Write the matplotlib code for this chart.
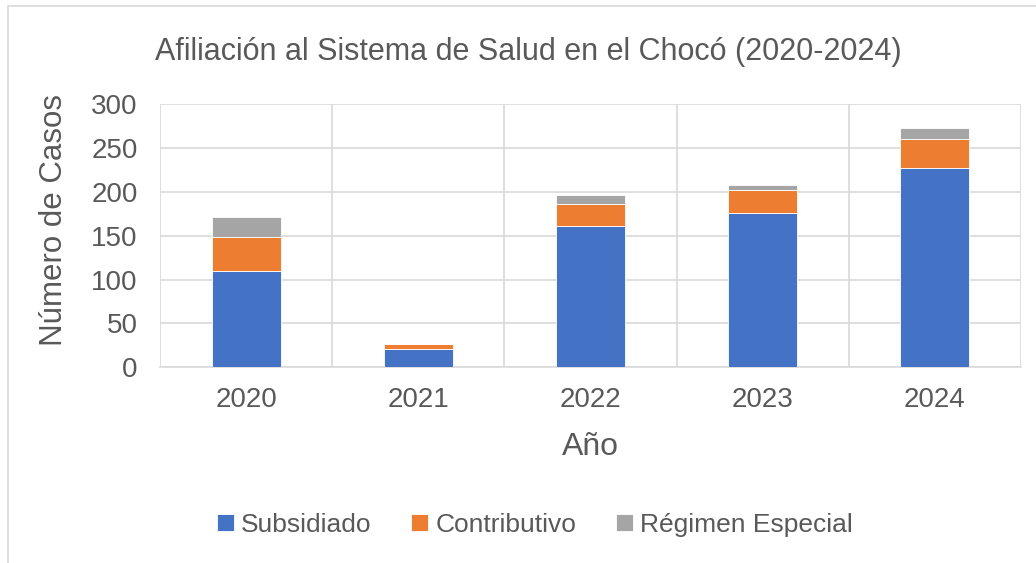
import matplotlib.pyplot as plt
from matplotlib.patches import Rectangle

# data
years = ["2020", "2021", "2022", "2023", "2024"]
subsidiado = [110, 21, 161, 176, 227]
contributivo = [38, 5, 25, 26, 33]
especial = [23, 1, 10, 6, 13]

plt.rcParams['font.family'] = ['Liberation Sans', 'DejaVu Sans']
TXT = '#595959'

fig = plt.figure(figsize=(10.36, 5.63), dpi=100)
ax = fig.add_axes([0.1544, 0.3476, 0.8311, 0.4677])

x = list(range(len(years)))
bottom2 = [a + b for a, b in zip(subsidiado, contributivo)]
ax.bar(x, subsidiado, width=0.4, color='#4472C4', edgecolor='white', linewidth=0.6, label='Subsidiado', zorder=3)
ax.bar(x, contributivo, width=0.4, bottom=subsidiado, color='#ED7D31', edgecolor='white', linewidth=0.6, label='Contributivo', zorder=3)
ax.bar(x, especial, width=0.4, bottom=bottom2, color='#A5A5A5', edgecolor='white', linewidth=0.6, label='Régimen Especial', zorder=3)

ax.set_xlim(-0.5, 4.5)
ax.set_ylim(0, 300)
ax.set_yticks(range(0, 301, 50))
ax.set_xticks(x)
ax.set_xticklabels(years)
# vertical gridlines at category boundaries
ax.set_xticks([i - 0.5 for i in range(len(years) + 1)], minor=True)
ax.grid(True, which='minor', axis='x', color='#D9D9D9', linewidth=1.2, zorder=0)
ax.grid(True, which='major', axis='y', color='#D9D9D9', linewidth=1.2, zorder=0)
ax.tick_params(axis='both', which='both', length=0, colors=TXT, labelsize=20)
ax.tick_params(axis='x', pad=14)
ax.tick_params(axis='y', pad=16)
for s in ax.spines.values():
    s.set_visible(False)
ax.spines['bottom'].set_visible(True)
ax.spines['bottom'].set_color('#D9D9D9')
ax.spines['bottom'].set_linewidth(1.2)

ax.set_xlabel("Año", fontsize=23, color=TXT, labelpad=14)
ax.set_ylabel("Número de Casos", fontsize=22.5, color=TXT, labelpad=16, y=0.56)
fig.text(0.51, 0.908, "Afiliación al Sistema de Salud en el Chocó (2020-2024)", ha='center', va='center',
         fontsize=22, color=TXT)

fig.legend(loc='center', bbox_to_anchor=(0.516, 0.068), ncol=3, frameon=False, fontsize=19,
           labelcolor=TXT, handlelength=0.65, handleheight=0.65, handletextpad=0.27, columnspacing=1.5)

# outer chart border
fig.patches.append(Rectangle((0.008, -0.01), 1.5, 1.0, transform=fig.transFigure,
                             fill=False, edgecolor='#D9D9D9', linewidth=1.2))

fig.savefig("out.png", dpi=100)
